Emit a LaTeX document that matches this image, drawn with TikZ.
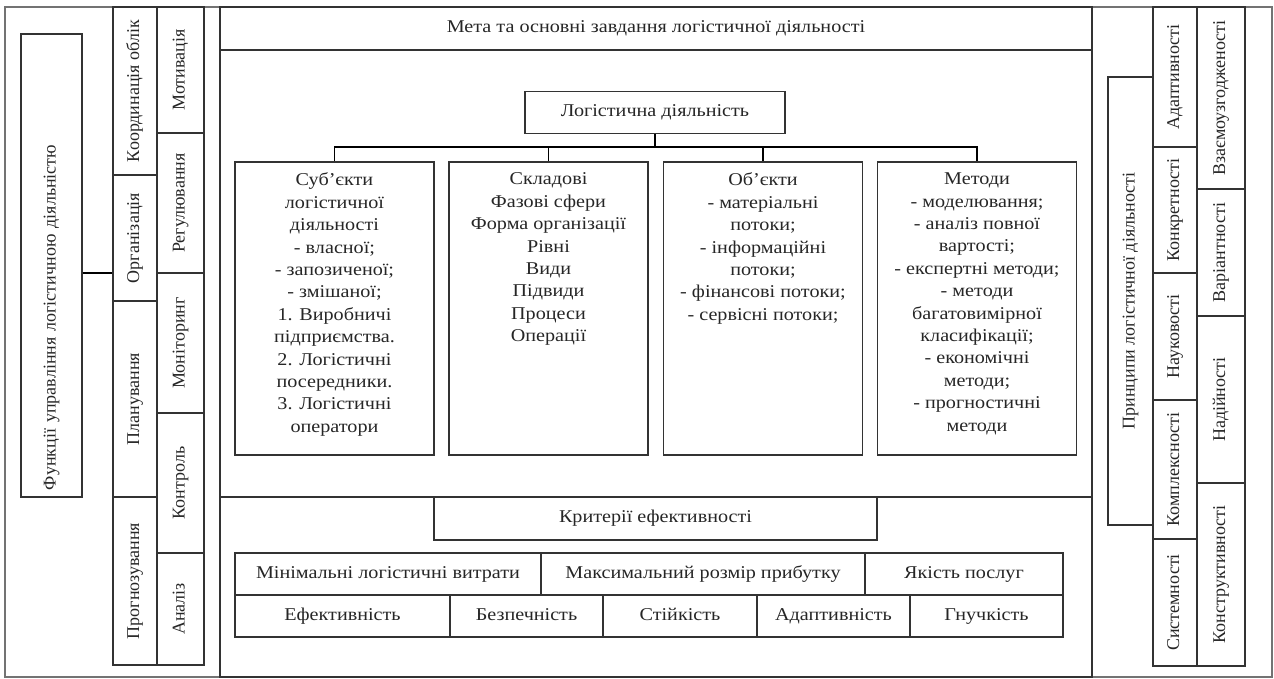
\documentclass[tikz,border=0pt]{standalone}
\usepackage{fontspec}
\setmainfont{Liberation Serif}
\newfontfamily\widefont[FakeStretch=1.12]{Liberation Serif}
\usetikzlibrary{positioning}

\begin{document}
\begin{tikzpicture}[x=1pt, y=-1pt, line width=1.1pt,
  every node/.style={font=\widefont\fontsize{18}{22.4}\selectfont, text=black!85},
  lbl/.style={draw=black!80, inner sep=0pt, text height=12pt, text depth=4pt},
  txt/.style={align=center, inner sep=0pt}]
\tikzstyle{vcell}=[lbl, rotate=90, font=\rmfamily\fontsize{18}{22.4}\selectfont]
\useasboundingbox (0,0) rectangle (1274,679);
% frame and the middle panel
\node[lbl, draw=black!55, minimum width=1267pt, minimum height=670pt] (frame) at (638.5,342) {};
\node[lbl, minimum width=872pt, minimum height=43pt] (meta) at (656,28.5) {Мета та основні завдання логістичної діяльності};
\node[lbl, minimum width=872pt, minimum height=447pt] (body) at (656,273.5) {};
\node[lbl, minimum width=872pt, minimum height=180pt] (bottom) at (656,587) {};
% logistic activity tree
\node[lbl, minimum width=260pt, minimum height=42pt] (lad) at (655,112.5) {Логістична діяльність};
\foreach \n/\x in {b1/334.5,b2/548.5,b3/763,b4/977}{\node[lbl, minimum width=199pt, minimum height=293pt] (\n) at (\x,308.5) {};}
\node[txt, below=11pt of b1.north] (b1t) {Суб’єкти\\логістичної\\діяльності\\- власної;\\- запозиченої;\\- змішаної;\\1. Виробничі\\підприємства.\\2. Логістичні\\посередники.\\3. Логістичні\\оператори};
\node[txt, below=11pt of b2.north] (b2t) {Складові\\Фазові сфери\\Форма організації\\Рівні\\Види\\Підвиди\\Процеси\\Операції};
\node[txt, below=11pt of b3.north] (b3t) {Об’єкти\\- матеріальні\\потоки;\\- інформаційні\\потоки;\\- фінансові потоки;\\- сервісні потоки;};
\node[txt, below=11pt of b4.north] (b4t) {Методи\\- моделювання;\\- аналіз повної\\вартості;\\- експертні методи;\\- методи\\багатовимірної\\класифікації;\\- економічні\\методи;\\- прогностичні\\методи};
\draw (lad.south) -- ++(0,13) coordinate (bus);
\foreach \b in {b1,b2,b3,b4}{\draw (bus) -| (\b.north);}
% criteria
\node[lbl, minimum width=443pt, minimum height=43pt] (kef) at (655.5,518.5) {Критерії ефективності};
\foreach \n/\xa/\xb/\ya/\yb/\t in {t11/235/541/553/595/{Мінімальні логістичні витрати},t12/541/865/553/595/{Максимальний розмір прибутку},t13/865/1063/553/595/{Якість послуг},
  t21/235/450/595/637/Ефективність,t22/450/603/595/637/Безпечність,t23/603/757/595/637/Стійкість,t24/757/910/595/637/Адаптивність,t25/910/1063/595/637/Гнучкість}
  {\node[lbl, minimum width=\xb-\xa, minimum height=\yb-\ya] (\n) at ({(\xa+\xb)/2},{(\ya+\yb)/2}) {\t};}
% functions (left) and principles (right)
\node[vcell, minimum height=61pt, text width=449pt, align=left, inner xsep=7pt] (fun) at (51.5,265.5) {Функції управління логістичною діяльністю};
\node[vcell, minimum width=448pt, minimum height=45pt] (princ) at (1130.5,301) {Принципи логістичної діяльності};
\foreach \n/\xa/\xb/\ya/\yb/\t in {koord/113/157/7/175/{Координація облік},org/113/157/175/301/Організація,plan/113/157/301/497/Планування,progn/113/157/497/665/Прогнозування,
  motyv/157/204/7/133/Мотивація,rehul/157/204/133/273/Регулювання,monit/157/204/273/413/Моніторинг,kontr/157/204/413/553/Контроль,anal/157/204/553/665/Аналіз,
  adapt/1153/1197/7/147/Адаптивності,konkr/1153/1197/147/273/Конкретності,nauk/1153/1197/273/400/Науковості,kompl/1153/1197/400/539/Комплексності,syst/1153/1197/539/666/Системності,
  vzaem/1197/1245/7/189/Взаємоузгодженості,variant/1197/1245/189/316/Варіантності,nadij/1197/1245/316/483/Надійності,konstr/1197/1245/483/666/Конструктивності}
  {\node[vcell, minimum width=\yb-\ya, minimum height=\xb-\xa] (\n) at ({(\xa+\xb)/2},{(\ya+\yb)/2}) {\t};}
\draw ([yshift=-7.5pt]fun.south) -- ([yshift=-7.5pt]fun.south -| org.north);
\end{tikzpicture}
\end{document}
